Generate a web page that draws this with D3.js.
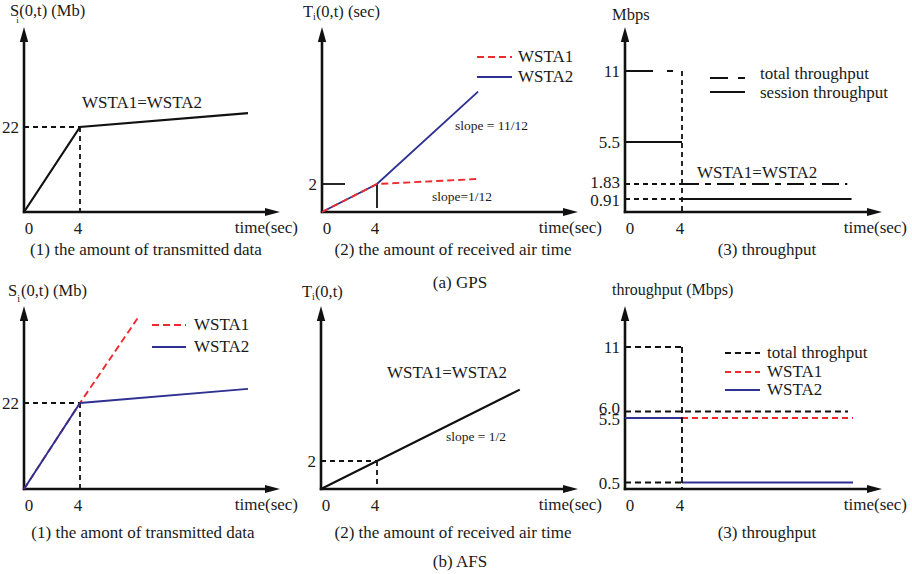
<!DOCTYPE html>
<html><head><meta charset="utf-8">
<script src="https://cdn.jsdelivr.net/npm/d3@7"></script>
<style>
body{margin:0;background:#fff}
text{font-family:"Liberation Serif","Times New Roman",serif;fill:#1a1a1a}
</style>
</head><body>
<svg id="fig" width="912" height="574"></svg>
<script>
// ---- shared axis text ----
const timeTicks = [0, 4];
const timeLabel = "time(sec)";

// ---- (a) GPS ----
const gpsDataT = [0, 4, 16];
const gpsDataMb = [0, 22, 25.6];
const gpsAirT = [0, 4, 11.35];
const gpsAirWSTA1 = [0, 2, 2.36];
const gpsAirWSTA2 = [0, 2, 8.6];
const gpsRateTicks = [0.91, 1.83, 5.5, 11];
const gpsRateLabels = ["0.91", "1.83", "5.5", "11"];
const gpsTotalSteps = [[0, 4, 11], [4, 15.6, 1.83]];      // [t0, t1, Mbps]
const gpsSessionSteps = [[0, 4, 5.5], [4, 15.9, 0.91]];
const gpsRefSteps = [[0, 4, 1.83], [0, 4, 0.91]];

// ---- (b) AFS ----
const afsWSTA1T = [0, 4, 8.1];
const afsWSTA1Mb = [0, 22, 43.6];
const afsWSTA2T = [0, 4, 16];
const afsWSTA2Mb = [0, 22, 25.6];
const afsAirT = [0, 4, 14.2];
const afsAirVal = [0, 2, 7.1];
const afsRateTicks = [0.5, 5.5, 6.0, 11];
const afsRateLabels = ["0.5", "5.5", "6.0", "11"];
const afsTotalSteps = [[0, 4, 11], [0, 15.65, 6.0], [0, 4, 0.5]];
const afsWSTA1Steps = [[4, 16, 5.5]];
const afsWSTA2Steps = [[0, 4, 5.5], [4, 16, 0.5]];

const INK = "#111", RED = "#ee2a2f", BLUE = "#2e3192";
const svg = d3.select("#fig");

// One panel: time axis + value axis with arrowheads, time tick labels
function makePanel(o) {
  const x = d3.scaleLinear().domain([0, 4]).range(o.xr);
  const y = d3.scaleLinear().domain(o.yd).range(o.yr);
  const g = svg.append("g");
  const ox = x(0), oy = y(0);
  g.append("line").attr("x1", ox).attr("y1", oy + 1.2).attr("x2", ox).attr("y2", o.tipY + 12)
    .attr("stroke", INK).attr("stroke-width", 2.6);
  g.append("path").attr("d", `M${ox},${o.tipY}L${ox - 4.2},${o.tipY + 15}L${ox + 4.2},${o.tipY + 15}Z`).attr("fill", INK);
  g.append("line").attr("x1", ox - 1.2).attr("y1", oy).attr("x2", o.tipX - 12).attr("y2", oy)
    .attr("stroke", INK).attr("stroke-width", 2.6);
  g.append("path").attr("d", `M${o.tipX},${oy}L${o.tipX - 15},${oy - 4}L${o.tipX - 15},${oy + 4}Z`).attr("fill", INK);
  g.selectAll(null).data(timeTicks).join("text")
    .attr("x", d => x(d) + (d === 0 ? 5 : -2)).attr("y", oy + 22)
    .attr("text-anchor", "middle").attr("font-size", 17).text(d => d);
  g.append("text").attr("x", o.endX).attr("y", oy + 21).attr("text-anchor", "end")
    .attr("font-size", 17).text(timeLabel);
  return { g, x, y };
}

// value-axis labels; nudge lets two close labels sit apart
function yTickLabels(p, vals, labels, nudge) {
  p.g.selectAll(null).data(vals).join("text")
    .attr("x", p.x(0) - 5).attr("y", (d, i) => p.y(d) + 6 + ((nudge && nudge[i]) || 0))
    .attr("text-anchor", "end").attr("font-size", 17)
    .text((d, i) => labels[i]);
}

function series(p, ts, vs, color, width, dash) {
  const line = d3.line().x(d => p.x(d[0])).y(d => p.y(d[1]));
  p.g.append("path").attr("d", line(d3.zip(ts, vs))).attr("fill", "none")
    .attr("stroke", color).attr("stroke-width", width).attr("stroke-dasharray", dash || null);
}

function steps(p, data, color, width, dash) {
  p.g.selectAll(null).data(data).join("line")
    .attr("x1", d => p.x(d[0])).attr("x2", d => p.x(d[1]))
    .attr("y1", d => p.y(d[2])).attr("y2", d => p.y(d[2]))
    .attr("stroke", color).attr("stroke-width", width)
    .attr("stroke-dasharray", typeof dash === "function" ? (d, i) => dash(d, i) : dash || null);
}

function guide(p, t, v, width, dash, color) {
  const g = p.g;
  g.append("line").attr("x1", p.x(0)).attr("x2", p.x(t)).attr("y1", p.y(v)).attr("y2", p.y(v))
    .attr("stroke", color || INK).attr("stroke-width", width).attr("stroke-dasharray", dash);
  g.append("line").attr("x1", p.x(t)).attr("x2", p.x(t)).attr("y1", p.y(v)).attr("y2", p.y(0))
    .attr("stroke", color || INK).attr("stroke-width", width).attr("stroke-dasharray", dash);
}

function legend(x0, x1, tx, rows) {
  rows.forEach(r => {
    svg.append("line").attr("x1", x0).attr("x2", x1).attr("y1", r.y).attr("y2", r.y)
      .attr("stroke", r.color).attr("stroke-width", r.w).attr("stroke-dasharray", r.dash || null);
    svg.append("text").attr("x", tx).attr("y", r.ty !== undefined ? r.ty : r.y + 5)
      .attr("font-size", 17).text(r.label);
  });
}

function label(x, y, txt, size, anchor) {
  svg.append("text").attr("x", x).attr("y", y).attr("font-size", size || 17)
    .attr("text-anchor", anchor || "start").text(txt);
}

// ================= (a) GPS =================
// (1) transmitted data
const a1 = makePanel({ xr: [24, 80], yd: [0, 22], yr: [212, 127], tipX: 280, tipY: 27, endX: 298 });
yTickLabels(a1, [22], ["22"]);
guide(a1, gpsDataT[1], gpsDataMb[1], 1.8, "5 4");
series(a1, gpsDataT, gpsDataMb, INK, 2.2);
label(142, 108, "WSTA1=WSTA2", 17, "middle");
{
  const t = svg.append("text").attr("x", 10).attr("y", 16).attr("font-size", 16.5);
  t.append("tspan").text("S");
  t.append("tspan").attr("font-size", 9).attr("dx", -3).attr("dy", 7).text("i");
  t.append("tspan").attr("dy", -7).attr("dx", 0.5).text("(0,t) (Mb)");
}
label(146, 255, "(1) the amount of transmitted data", 17, "middle");

// (2) received air time
const a2 = makePanel({ xr: [322, 377], yd: [0, 2], yr: [212, 184], tipX: 578, tipY: 27, endX: 602 });
yTickLabels(a2, [2], ["2"]);
a2.g.append("line").attr("x1", a2.x(0)).attr("x2", a2.x(0) + 23)
  .attr("y1", a2.y(gpsAirWSTA1[1])).attr("y2", a2.y(gpsAirWSTA1[1])).attr("stroke", INK).attr("stroke-width", 1.8);
a2.g.append("line").attr("x1", a2.x(gpsAirT[1])).attr("x2", a2.x(gpsAirT[1]))
  .attr("y1", a2.y(gpsAirWSTA1[1])).attr("y2", a2.y(0) - 4).attr("stroke", INK).attr("stroke-width", 1.8);
series(a2, gpsAirT, gpsAirWSTA2, BLUE, 1.9);
series(a2, gpsAirT, gpsAirWSTA1, RED, 1.9, "7 4");
legend(477, 512, 518, [
  { y: 57, color: RED, w: 1.9, dash: "7 4", label: "WSTA1" },
  { y: 77, color: BLUE, w: 1.9, label: "WSTA2" }
]);
label(455, 130, "slope = 11/12", 13.5);
label(432, 201, "slope=1/12", 13.5);
{
  const t = svg.append("text").attr("x", 303).attr("y", 17).attr("font-size", 16.5);
  t.append("tspan").text("T");
  t.append("tspan").attr("font-size", 10).attr("dy", 3).text("i");
  t.append("tspan").attr("dy", -3).text("(0,t) (sec)");
}
label(453, 255, "(2) the amount of received air time", 17, "middle");
label(460, 288, "(a) GPS", 17, "middle");

// (3) throughput
const a3 = makePanel({ xr: [625, 682], yd: [0, 0.91, 1.83, 5.5, 11], yr: [212, 199, 184, 142, 71], tipX: 882, tipY: 27, endX: 907 });
yTickLabels(a3, gpsRateTicks, gpsRateLabels, [1, -2, 0, 0]);
steps(a3, gpsRefSteps, INK, 1.8, "5 4");
a3.g.append("line").attr("x1", a3.x(4)).attr("x2", a3.x(4)).attr("y1", a3.y(gpsTotalSteps[0][2])).attr("y2", a3.y(0))
  .attr("stroke", INK).attr("stroke-width", 1.8).attr("stroke-dasharray", "5 4");
steps(a3, gpsTotalSteps, INK, 1.9, (d, i) => i === 0 ? "28 14 6 20" : "17 6 6 6");
steps(a3, gpsSessionSteps, INK, 1.9);
legend(710, 745, 760, [
  { y: 78, ty: 79, color: INK, w: 2, dash: "18 10 7 10", label: "total throughput" },
  { y: 92, ty: 98, color: INK, w: 2, label: "session throughput" }
]);
label(697, 178, "WSTA1=WSTA2", 17);
label(612, 20, "Mbps", 16.5);
label(767, 255, "(3) throughput", 17, "middle");

// ================= (b) AFS =================
// (1) transmitted data
const b1 = makePanel({ xr: [24, 80], yd: [0, 22], yr: [489, 403], tipX: 280, tipY: 306, endX: 298 });
yTickLabels(b1, [22], ["22"]);
guide(b1, afsWSTA2T[1], afsWSTA2Mb[1], 1.8, "5 4");
series(b1, afsWSTA1T, afsWSTA1Mb, RED, 1.9, "7 4");
series(b1, afsWSTA2T, afsWSTA2Mb, BLUE, 1.9);
legend(152, 186, 194, [
  { y: 325, color: RED, w: 1.9, dash: "7 4", label: "WSTA1" },
  { y: 347, color: BLUE, w: 1.9, label: "WSTA2" }
]);
{
  const t = svg.append("text").attr("x", 8).attr("y", 296).attr("font-size", 16.5);
  t.append("tspan").text("S");
  t.append("tspan").attr("font-size", 10).attr("dy", 6).text("i");
  t.append("tspan").attr("dy", -6).attr("dx", 1).text("(0,t) (Mb)");
}
label(143, 538, "(1) the amont of transmitted data", 17, "middle");

// (2) received air time
const b2 = makePanel({ xr: [321, 377], yd: [0, 2], yr: [489, 461], tipX: 578, tipY: 306, endX: 602 });
yTickLabels(b2, [2], ["2"]);
guide(b2, afsAirT[1], afsAirVal[1], 1.8, "5 4");
series(b2, afsAirT, afsAirVal, INK, 2.1);
label(447, 378, "WSTA1=WSTA2", 17, "middle");
label(446, 441, "slope = 1/2", 13.5);
{
  const t = svg.append("text").attr("x", 302).attr("y", 297).attr("font-size", 16.5);
  t.append("tspan").text("T");
  t.append("tspan").attr("font-size", 10).attr("dy", 3).text("i");
  t.append("tspan").attr("dy", -3).text("(0,t)");
}
label(453, 538, "(2) the amount of received air time", 17, "middle");
label(460, 567, "(b) AFS", 17, "middle");

// (3) throughput
const b3 = makePanel({ xr: [625, 682], yd: [0, 11], yr: [489, 347], tipX: 882, tipY: 306, endX: 907 });
yTickLabels(b3, afsRateTicks, afsRateLabels, [0, 1, -4, 0]);
steps(b3, afsWSTA2Steps, BLUE, 2);
steps(b3, afsWSTA1Steps, RED, 1.9, "6 4");
steps(b3, afsTotalSteps, INK, 1.9, "6 4");
b3.g.append("line").attr("x1", b3.x(4)).attr("x2", b3.x(4)).attr("y1", b3.y(afsTotalSteps[0][2])).attr("y2", b3.y(0))
  .attr("stroke", INK).attr("stroke-width", 1.9).attr("stroke-dasharray", "6 4");
legend(725, 760, 767, [
  { y: 353, color: INK, w: 1.9, dash: "6 4", label: "total throghput" },
  { y: 372, color: RED, w: 1.9, dash: "6 4", label: "WSTA1" },
  { y: 390, color: BLUE, w: 1.9, label: "WSTA2" }
]);
label(612, 295, "throughput (Mbps)", 16);
label(767, 538, "(3) throughput", 17, "middle");
</script>
</body></html>
